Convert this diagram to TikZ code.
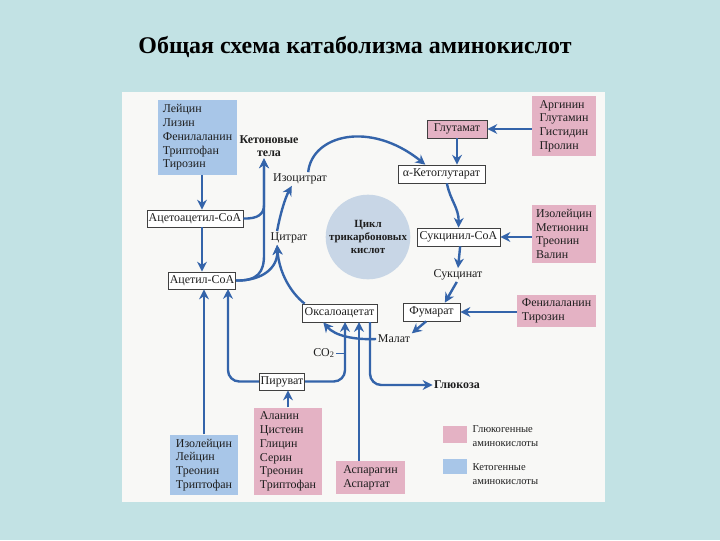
\documentclass[tikz,border=0pt]{standalone}
\usepackage{fontspec}
\setmainfont{Liberation Serif}
\usetikzlibrary{arrows.meta}
\definecolor{bgc}{RGB}{194,226,228}
\definecolor{panelc}{RGB}{248,248,246}
\definecolor{pinkc}{RGB}{228,178,196}
\definecolor{bluec}{RGB}{168,198,232}
\definecolor{arrc}{RGB}{52,100,170}
\definecolor{cyclec}{RGB}{200,214,230}
\definecolor{txtc}{RGB}{30,30,30}
\tikzset{
  arr/.style={arrc,line width=1.7pt,-{Stealth[length=7pt,width=7pt]}},
  box/.style={draw=black!75,fill=white,line width=0.5pt,text=txtc,
    font=\fontsize{8.5}{10}\selectfont,inner sep=1pt},
  list/.style={align=left,text=txtc,font=\fontsize{8.5}{9.8}\selectfont,inner sep=3pt},
  lbl/.style={text=txtc,font=\fontsize{8.5}{10}\selectfont,inner sep=1pt},
}
\begin{document}
\begin{tikzpicture}[x=0.025cm,y=-0.025cm]
  \fill[bgc] (0,0) rectangle (720,540);
  \fill[panelc] (122,92) rectangle (605,502);
  \node[text=black] (title) at (355,47)
    {\fontsize{17}{20}\selectfont\bfseries Общая схема катаболизма аминокислот};
  % amino acid groups
  \node[list,fill=bluec,minimum width=1.98cm,minimum height=1.73cm] (ketoT) at (197.5,137.5)
    {Лейцин\\Лизин\\Фенилаланин\\Триптофан\\Тирозин};
  \node[list,fill=pinkc,minimum width=1.6cm,minimum height=1.48cm] (gluT) at (564,126)
    {Аргинин\\Глутамин\\Гистидин\\Пролин};
  \node[list,fill=pinkc,minimum width=1.6cm,minimum height=1.45cm] (succT) at (564,234)
    {Изолейцин\\Метионин\\Треонин\\Валин};
  \node[list,fill=pinkc,minimum width=1.98cm,minimum height=0.8cm] (phenT) at (556.5,311)
    {Фенилаланин\\Тирозин};
  \node[list,fill=pinkc,minimum width=1.7cm,minimum height=2.08cm] (alaT) at (288,451.5)
    {Аланин\\Цистеин\\Глицин\\Серин\\Треонин\\Триптофан};
  \node[list,fill=bluec,minimum width=1.7cm,minimum height=1.4cm] (ileT) at (204,465)
    {Изолейцин\\Лейцин\\Треонин\\Триптофан};
  \node[list,fill=pinkc,minimum width=1.73cm,minimum height=0.78cm] (aspT) at (370.5,477.5)
    {Аспарагин\\Аспартат};
  % metabolites
  \node[box,fill=pinkc,minimum width=1.5cm,minimum height=0.45cm] (glut) at (457,129) {Глутамат};
  \node[box,minimum width=2.18cm,minimum height=0.45cm] (akg) at (441.5,174) {α-Кетоглутарат};
  \node[box,minimum width=2.4cm,minimum height=0.43cm] (acac) at (195,218.5) {Ацетоацетил-СоА};
  \node[box,minimum width=2.08cm,minimum height=0.45cm] (succoa) at (458.5,237) {Сукцинил-СоА};
  \node[box,minimum width=1.65cm,minimum height=0.43cm] (acoa) at (202,280.5) {Ацетил-СоА};
  \node[box,minimum width=1.43cm,minimum height=0.45cm] (fum) at (431.5,312) {Фумарат};
  \node[box,minimum width=1.88cm,minimum height=0.45cm] (oxa) at (339.5,313) {Оксалоацетат};
  \node[box,minimum width=1.1cm,minimum height=0.43cm] (pyr) at (282,381.5) {Пируват};
  \node[lbl,align=center,font=\fontsize{8.5}{9.5}\selectfont\bfseries] (ketone) at (269,146)
    {Кетоновые\\тела};
  \node[lbl] (izocit) at (300,179) {Изоцитрат};
  \node[lbl] (citr) at (289,238) {Цитрат};
  \node[lbl] (succ) at (458,275) {Сукцинат};
  \node[lbl] (malat) at (394,339) {Малат};
  \node[lbl] (co2) at (324,353) {CO\textsubscript{2}};
  \node[lbl,font=\fontsize{8.5}{10}\selectfont\bfseries] (gluc) at (457,385) {Глюкоза};
  \node[circle,fill=cyclec,minimum size=1.95cm,inner sep=0pt,align=center,text=txtc,
    font=\fontsize{7.8}{9.3}\selectfont\bfseries] (cycle) at (368,237)
    {Цикл\\трикарбоновых\\кислот};
  % legend
  \node[fill=pinkc,minimum width=0.6cm,minimum height=0.43cm,inner sep=0pt] (legG) at (455,434.5) {};
  \node[lbl,anchor=west,align=left,font=\fontsize{7.5}{10}\selectfont] (legGt) at (471,436)
    {Глюкогенные\\аминокислоты};
  \node[fill=bluec,minimum width=0.6cm,minimum height=0.38cm,inner sep=0pt] (legK) at (455,466.5) {};
  \node[lbl,anchor=west,align=left,font=\fontsize{7.5}{10}\selectfont] (legKt) at (471,474)
    {Кетогенные\\аминокислоты};
  \coordinate (kx) at (264,205);
  \coordinate (pyrup) at (345,322);
  \coordinate (aspup) at (359,322);
  \coordinate (glx) at (370,322);
  \coordinate (acpy) at (228,289);
  % connectors
  \draw[arr] (acoa.north |- ketoT.south) -- (acoa.north |- acac.north);
  \draw[arr] (acoa.north |- acac.south) -- (acoa.north);
  \draw[arr] (acac.east) .. controls (258,219) and (264,214) .. (kx) -- (ketone.south -| kx);
  \draw[arr] (acoa.east) .. controls (258,281) and (264,272) .. (264,255) -- (ketone.south -| kx);
  \draw[arr] (acoa.east) .. controls (262,281) and (278,268) .. (citr.210);
  \draw[arr] (oxa.165) .. controls (290,292) and (279,272) .. (citr.210);
  \draw[arr] (citr.150) .. controls (280,215) and (285,198) .. (izocit.220);
  \draw[arr] (izocit.40) .. controls (312,135) and (370,120) .. (akg.150);
  \draw[arr] (glut.south) -- (glut.south |- akg.north);
  \draw[arr] (gluT.west |- glut.east) -- (glut.east);
  \draw[arr] (akg.-60) .. controls (450,200) and (459,208) .. (succoa.north);
  \draw[arr] (succT.west |- succoa.east) -- (succoa.east);
  \draw[arr] (succoa.-80) -- (succ.north);
  \draw[arr] (succ.-100) -- (fum.35);
  \draw[arr] (phenT.west |- fum.east) -- (fum.east);
  \draw[arr] (fum.-120) -- (malat.north east);
  \draw[arr] (malat.west) .. controls (355,340) and (335,336) .. (oxa.-150);
  \draw[arr,rounded corners=8] (pyr.east) -| (pyrup);
  \draw[arrc,line width=0.6pt] (co2.east) -- (co2.east -| pyrup);
  \draw[arr] (aspup |- aspT.north) -- (aspup);
  \draw[arr,rounded corners=8] (glx) |- (gluc.west);
  \draw[arr,rounded corners=8] (pyr.west) -| (acpy);
  \draw[arr] (ileT.north) -- (ileT.north |- acoa.south);
  \draw[arr] (alaT.north) -- (alaT.north |- pyr.south);
\end{tikzpicture}
\end{document}
